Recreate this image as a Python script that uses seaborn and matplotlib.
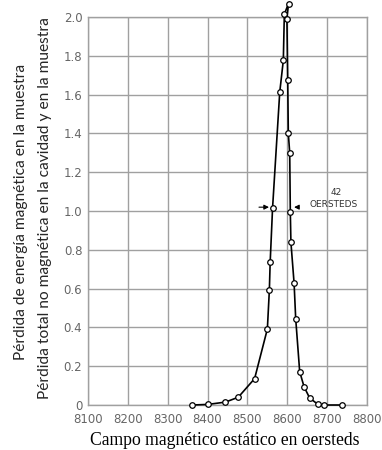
import matplotlib
matplotlib.use("Agg")
import matplotlib.pyplot as plt
import seaborn as sns
import pandas as pd

# Data (ordered along the curve)
campo = [8362, 8401, 8445, 8477, 8518, 8550, 8555, 8557, 8563, 8581, 8590, 8592.5,
         8603, 8599, 8601, 8602.5, 8606, 8607.5, 8609, 8617, 8621, 8631, 8642,
         8656, 8677, 8693, 8737]
perdida = [0.0, 0.003, 0.015, 0.04, 0.136, 0.392, 0.593, 0.735, 1.015, 1.613, 1.777, 2.015,
           2.07, 1.99, 1.674, 1.40, 1.30, 0.996, 0.839, 0.627, 0.445, 0.172, 0.094,
           0.036, 0.003, 0.0, 0.0]
x_ticks = [8100, 8200, 8300, 8400, 8500, 8600, 8700, 8800]
y_ticks = [0, 0.2, 0.4, 0.6, 0.8, 1.0, 1.2, 1.4, 1.6, 1.8, 2.0]
y_tick_labels = ["0", "0.2", "0.4", "0.6", "0.8", "1.0", "1.2", "1.4", "1.6", "1.8", "2.0"]

df = pd.DataFrame({"campo": campo, "perdida": perdida})

sns.set_style("white")
plt.rcParams["font.family"] = ["DejaVu Sans"]

fig = plt.figure(figsize=(3.82, 4.5), dpi=100)
ax = fig.add_axes([0.230, 0.100, 0.731, 0.862])

sns.lineplot(data=df, x="campo", y="perdida", sort=False, estimator=None, ax=ax,
             color="black", linewidth=1.2, marker="o", markersize=4,
             markerfacecolor="white", markeredgecolor="black", markeredgewidth=0.9,
             legend=False, zorder=3)
for art in ax.lines:
    art.set_clip_on(False)

grid_c = "#a0a0a0"
ax.set_xlim(8100, 8800)
ax.set_ylim(0, 2.0)
ax.set_xticks(x_ticks)
ax.set_yticks(y_ticks)
ax.set_yticklabels(y_tick_labels)
ax.grid(True, color=grid_c, linewidth=1.0)
ax.set_axisbelow(True)
for s in ax.spines.values():
    s.set_color(grid_c)
    s.set_linewidth(1.0)
ax.tick_params(axis="both", which="both", length=3, width=1.0, color=grid_c,
               labelsize=8.5, labelcolor="#666666")
ax.tick_params(axis="y", pad=1)
ax.tick_params(axis="x", pad=3)

ax.set_xlabel("")
ax.set_ylabel("")
fig.text(0.589, 0.022, "Campo magnético estático en oersteds", family="Liberation Serif",
         fontsize=12.7, color="black", ha="center", va="center")
fig.text(0.055, 0.530, "Pérdida de energía magnética en la muestra", rotation=90,
         family="Lato", fontsize=11.2, ha="center", va="center")
fig.text(0.118, 0.537, "Pérdida total no magnética en la cavidad y en la muestra", rotation=90,
         family="Lato", fontsize=11.2, ha="center", va="center")

# 42 oersteds width annotation
ax.annotate("", xy=(8561, 1.02), xytext=(8522, 1.02),
            arrowprops=dict(arrowstyle="-|>", color="black", lw=0.8, mutation_scale=7))
ax.annotate("", xy=(8610, 1.02), xytext=(8632, 1.02),
            arrowprops=dict(arrowstyle="-|>", color="black", lw=0.8, mutation_scale=7))
ax.text(8722, 1.098, "42", fontsize=6.5, ha="center", va="center", color="#333333")
ax.text(8717, 1.036, "OERSTEDS", fontsize=6.5, ha="center", va="center", color="#333333")

fig.savefig("out.png", dpi=100, facecolor="white")
